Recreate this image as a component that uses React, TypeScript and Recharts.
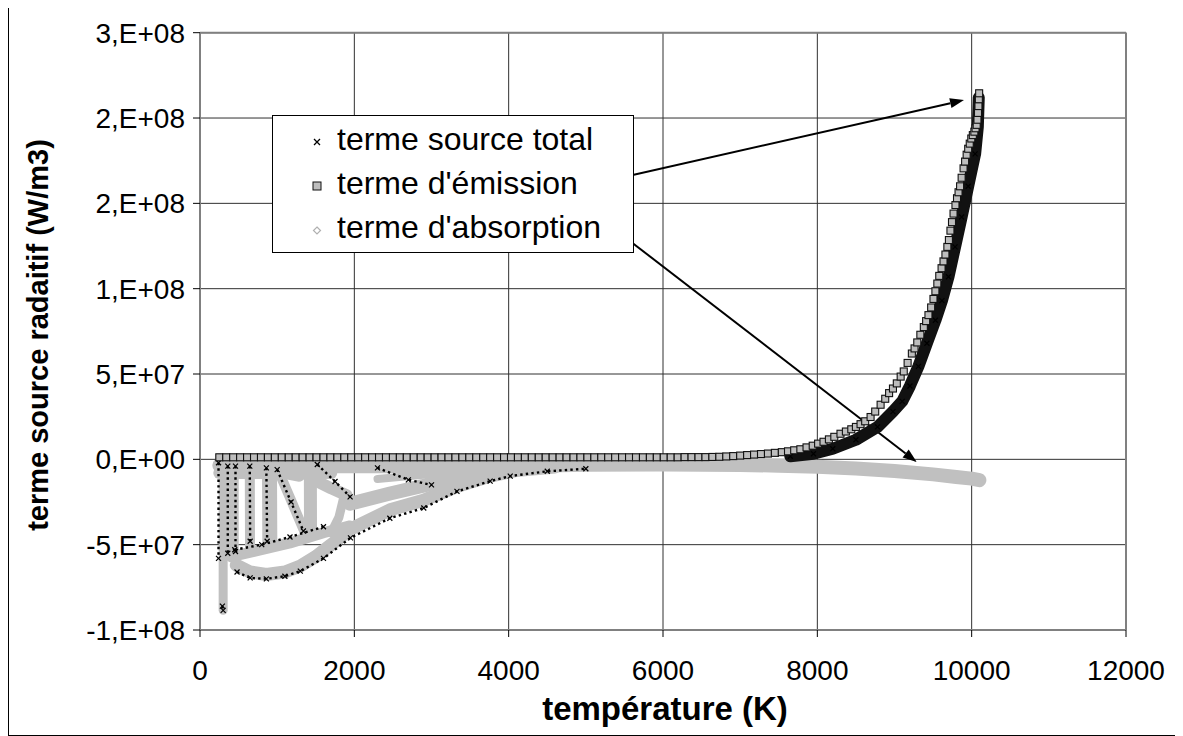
import React from 'react';
import { ScatterChart, Scatter, XAxis, YAxis, CartesianGrid, ReferenceLine, Legend } from 'recharts';

const FONT = "'Liberation Sans', Arial, Helvetica, sans-serif";

const xTicks = [0, 2000, 4000, 6000, 8000, 10000, 12000];
const yTicks = [-100000000, -50000000, 0, 50000000, 100000000, 150000000, 200000000, 250000000];
const yTickLabels = ['-1,E+08', '-5,E+07', '0,E+00', '5,E+07', '1,E+08', '2,E+08', '2,E+08', '3,E+08'];
const seriesNames = ['terme source total', "terme d'émission", "terme d'absorption"];
const xTitle = 'température (K)';
const yTitle = 'terme source radaitif (W/m3)';

type Pt = [number, number];

// terme d'émission : palier proche de zéro
const emissionFlat: Pt[] = [
  [250, 1.2e6], [340, 1.2e6], [430, 1.2e6], [520, 1.2e6], [610, 1.2e6], [700, 1.2e6], [790, 1.2e6], [880, 1.2e6],
  [970, 1.2e6], [1060, 1.2e6], [1150, 1.2e6], [1240, 1.2e6], [1330, 1.2e6], [1420, 1.2e6], [1510, 1.2e6], [1600, 1.2e6],
  [1690, 1.2e6], [1780, 1.2e6], [1870, 1.2e6], [1960, 1.2e6], [2050, 1.2e6], [2140, 1.2e6], [2230, 1.2e6], [2320, 1.2e6],
  [2410, 1.2e6], [2500, 1.2e6], [2590, 1.2e6], [2680, 1.2e6], [2770, 1.2e6], [2860, 1.2e6], [2950, 1.2e6], [3040, 1.2e6],
  [3130, 1.2e6], [3220, 1.2e6], [3310, 1.2e6], [3400, 1.2e6], [3490, 1.2e6], [3580, 1.2e6], [3670, 1.2e6], [3760, 1.2e6],
  [3850, 1.2e6], [3940, 1.2e6], [4030, 1.2e6], [4120, 1.2e6], [4210, 1.2e6], [4300, 1.2e6], [4390, 1.2e6], [4480, 1.2e6],
  [4570, 1.2e6], [4660, 1.2e6], [4750, 1.2e6], [4840, 1.2e6], [4930, 1.2e6], [5020, 1.2e6], [5110, 1.2e6], [5200, 1.2e6],
  [5290, 1.2e6], [5380, 1.2e6], [5470, 1.2e6], [5560, 1.2e6], [5650, 1.2e6], [5740, 1.2e6], [5830, 1.2e6], [5920, 1.2e6],
  [6010, 1.2e6], [6100, 1.2e6], [6190, 1.2e6], [6280, 1.3e6], [6370, 1.3e6], [6460, 1.3e6], [6550, 1.3e6], [6640, 1.4e6],
];

// terme d'émission : montée exponentielle
const emissionRise: Pt[] = [
  [6730, 1.5e6], [6820, 1.7e6], [6910, 1.9e6], [7000, 2.2e6], [7090, 2.5e6], [7180, 2.8e6], [7270, 3.1e6], [7360, 3.4e6],
  [7450, 3.8e6], [7540, 4.2e6], [7620, 4.7e6], [7700, 5.3e6], [7780, 5.9e6], [7860, 7.0e6], [7940, 8.0e6], [8010, 9.2e6],
  [8080, 1.03e7], [8150, 1.17e7], [8220, 1.32e7], [8300, 1.5e7], [8370, 1.63e7], [8440, 1.76e7], [8500, 1.9e7], [8560, 2.06e7],
  [8620, 2.23e7], [8690, 2.48e7], [8750, 2.8e7], [8820, 3.2e7], [8880, 3.55e7], [8930, 3.88e7], [8980, 4.15e7], [9030, 4.45e7],
  [9080, 4.85e7], [9120, 5.15e7], [9170, 5.65e7], [9225, 6.2e7], [9260, 6.5e7], [9295, 6.85e7], [9335, 7.3e7], [9380, 7.75e7],
  [9410, 8.1e7], [9440, 8.45e7], [9475, 8.9e7], [9505, 9.4e7], [9530, 9.85e7], [9555, 1.03e8], [9580, 1.075e8], [9610, 1.12e8],
  [9635, 1.16e8], [9660, 1.2e8], [9685, 1.245e8], [9705, 1.285e8], [9725, 1.34e8], [9745, 1.39e8], [9765, 1.44e8], [9790, 1.49e8],
  [9810, 1.53e8], [9830, 1.565e8], [9850, 1.6e8], [9870, 1.65e8], [9895, 1.705e8], [9915, 1.745e8], [9935, 1.785e8], [9955, 1.82e8],
  [9975, 1.85e8], [9995, 1.88e8], [10015, 1.9e8], [10035, 1.92e8], [10050, 1.94e8], [10065, 1.96e8], [10075, 1.99e8], [10082, 2.03e8],
  [10088, 2.07e8], [10093, 2.11e8], [10097, 2.145e8],
];

// terme source total : bande sombre à haute température
const totalRise: Pt[] = [
  [7650, 1.8e6], [7950, 3.3e6], [8200, 6.2e6], [8500, 1.15e7], [8780, 1.9e7], [8980, 2.8e7], [9100, 3.4e7], [9200, 4.3e7],
  [9310, 5.45e7], [9420, 6.8e7], [9530, 8.15e7], [9615, 9.3e7], [9700, 1.07e8], [9785, 1.245e8], [9870, 1.42e8], [9955, 1.6e8],
  [10045, 1.79e8], [10080, 1.95e8], [10092, 2.12e8],
];

// terme source total : points à basse température (contours pointillés)
const totalLowerEdge: Pt[] = [
  [480, -6.6e7], [650, -6.95e7], [860, -7.0e7], [1100, -6.85e7], [1300, -6.55e7], [1600, -5.8e7], [1950, -4.6e7],
  [2460, -3.45e7], [2900, -2.85e7], [3330, -1.88e7], [3760, -1.28e7], [4020, -9.8e6], [4500, -7e6], [5000, -5.5e6],
];
const totalLeftEdge: Pt[] = [[240, -2e6], [240, -5.8e7]];
const totalMesh1: Pt[] = [[360, -4e6], [360, -5.5e7]];
const totalMesh1b: Pt[] = [[460, -4e6], [460, -5.4e7]];
const totalMesh2: Pt[] = [[645, -4e6], [650, -4.8e7]];
const totalMesh2b: Pt[] = [[860, -5e6], [870, -4.8e7]];
const totalMesh3: Pt[] = [[1000, -6e6], [1180, -2.5e7], [1340, -4.2e7]];
const totalMesh4: Pt[] = [[1520, -3e6], [1750, -1.3e7], [1945, -2.2e7]];
const totalMesh5: Pt[] = [[2300, -5e6], [2700, -1.2e7], [3000, -1.5e7]];
const totalDiagEdge: Pt[] = [[450, -5.3e7], [800, -5.0e7], [1166, -4.55e7], [1600, -3.95e7]];
const totalBottom: Pt[] = [[290, -8.6e7], [300, -8.85e7]];

// terme d'absorption
const absZeroBand: Pt[] = [
  [250, -3.5e6], [1000, -4e6], [2000, -4e6], [3000, -4e6], [4000, -4e6], [5000, -3.2e6], [6000, -3e6], [7000, -3.3e6],
  [7500, -3.7e6], [8000, -4.3e6], [8500, -5.3e6], [9000, -6.8e6], [9500, -8.8e6], [9800, -1.03e7], [10000, -1.13e7], [10100, -1.22e7],
];
const absTopLeft: Pt[] = [[250, -8e6], [1000, -8e6], [1700, -8e6]];
const absVertical: Pt[] = [[300, -2e6], [300, -8.85e7]];
const absBlock: Pt[] = [[385, -2e6], [385, -5.4e7]];
const absLowerEnv: Pt[] = [
  [470, -6.2e7], [650, -6.6e7], [860, -6.75e7], [1100, -6.6e7], [1300, -6.25e7], [1500, -5.7e7], [1700, -5.0e7], [1944, -4.1e7],
  [2463, -2.96e7], [2895, -2.4e7], [3327, -1.6e7], [3759, -9.8e6], [4100, -6.5e6], [4600, -4.5e6],
];
const absDiagonal: Pt[] = [[400, -5.7e7], [700, -5.4e7], [1166, -4.9e7], [1600, -4.3e7], [1944, -3.9e7]];
const absTaper: Pt[] = [[1944, -2.6e7], [2463, -2.0e7], [2895, -1.55e7], [3327, -1.05e7], [3759, -6.5e6]];
const absTaper2: Pt[] = [[2300, -1.15e7], [2895, -9e6], [3327, -6.5e6]];
const absMeshB: Pt[] = [[645, -3e6], [648, -5.0e7]];
const absMeshC: Pt[] = [[900, -3e6], [905, -5.0e7]];
const absMeshD: Pt[] = [[1000, -5e6], [1180, -2.4e7], [1340, -4.1e7]];
const absMeshD2: Pt[] = [[1060, -7e6], [1280, -9e6]];
const absMeshE: Pt[] = [[1430, -4e6], [1432, -4.1e7]];
const absMeshF: Pt[] = [[1480, -1.2e7], [1700, -1.7e7], [1900, -2.1e7]];
const absMeshG: Pt[] = [[1870, -2.1e7], [1800, -3.4e7], [1700, -4.3e7]];

// flèches d'annotation (coordonnées en unités des axes)
const arrowEmission: Pt[] = [[5093, 1.614e8], [9901, 2.105e8]];
const arrowAbsorption: Pt[] = [[5469, 1.315e8], [9288, -1.6e6]];

const toData = (pts: Pt[]) => pts.map(([t, v]) => ({ t, v }));

const GRAY = '#c0c0c0';

const squareShape = (p: any) => (
  <rect x={p.cx - 3.5} y={p.cy - 3.5} width={7} height={7} fill="#bdbdbd" stroke="#111" strokeWidth={1.1} />
);
const crossShape = (p: any) => (
  <path d={`M${p.cx - 2.5},${p.cy - 2.5}L${p.cx + 2.5},${p.cy + 2.5}M${p.cx - 2.5},${p.cy + 2.5}L${p.cx + 2.5},${p.cy - 2.5}`} stroke="#000" strokeWidth={1.2} />
);
const diamondShape = (p: any) => (
  <path d={`M${p.cx},${p.cy - 3}L${p.cx + 3},${p.cy}L${p.cx},${p.cy + 3}L${p.cx - 3},${p.cy}Z`} fill={GRAY} stroke={GRAY} />
);

const absorptionSeries: { data: Pt[]; w: number }[] = [
  { data: absZeroBand, w: 14 },
  { data: absTopLeft, w: 12 },
  { data: absVertical, w: 9 },
  { data: absBlock, w: 18 },
  { data: absLowerEnv, w: 13 },
  { data: absDiagonal, w: 11 },
  { data: absTaper, w: 14 },
  { data: absTaper2, w: 8 },
  { data: absMeshB, w: 10 },
  { data: absMeshC, w: 15 },
  { data: absMeshD, w: 10 },
  { data: absMeshD2, w: 14 },
  { data: absMeshE, w: 13 },
  { data: absMeshF, w: 12 },
  { data: absMeshG, w: 9 },
];

const totalDotted: Pt[][] = [
  totalLowerEdge, totalLeftEdge, totalMesh1, totalMesh1b, totalMesh2, totalMesh2b, totalMesh3, totalMesh4, totalMesh5,
  totalDiagEdge, totalBottom,
];

const arrowShape = (p: any) => {
  const { x1, y1, x2, y2 } = p;
  const ang = Math.atan2(y2 - y1, x2 - x1);
  const L = 14;
  const W = 5;
  const bx = x2 - L * Math.cos(ang);
  const by = y2 - L * Math.sin(ang);
  const px = -Math.sin(ang) * W;
  const py = Math.cos(ang) * W;
  return (
    <g>
      <line x1={x1} y1={y1} x2={bx} y2={by} stroke="#000" strokeWidth={2} />
      <polygon points={`${x2},${y2} ${bx + px},${by + py} ${bx - px},${by - py}`} fill="#000" />
    </g>
  );
};

const LegendBox = () => (
  <svg width={362} height={138} style={{ display: 'block' }}>
    <rect x={0.5} y={0.5} width={361} height={137} fill="#fff" stroke="#000" strokeWidth={1} />
    <path d="M42,24L48,30M42,30L48,24" stroke="#000" strokeWidth={1.3} />
    <text x={65} y={35} fontSize={32} fontFamily={FONT} fill="#000">{seriesNames[0]}</text>
    <rect x={41} y={67} width={8} height={8} fill="#bdbdbd" stroke="#111" strokeWidth={1} />
    <text x={65} y={79} fontSize={32} fontFamily={FONT} fill="#000">{seriesNames[1]}</text>
    <path d="M45,112L48.5,115.5L45,119L41.5,115.5Z" fill="#fff" stroke="#b0b0b0" strokeWidth={1.2} />
    <text x={65} y={123} fontSize={32} fontFamily={FONT} fill="#000">{seriesNames[2]}</text>
  </svg>
);

const YTitle = () => (
  <text transform="rotate(-90)" x={-328} y={38.5} textAnchor="middle" fontSize={29} fontWeight="bold" fontFamily={FONT} fill="#000">
    {yTitle}
  </text>
);
const XTitle = () => (
  <text x={656} y={713} textAnchor="middle" fontSize={33} fontWeight="bold" fontFamily={FONT} fill="#000">
    {xTitle}
  </text>
);

export default function App() {
  return (
    <div style={{ width: 1167, height: 728, border: '1px solid #000', marginTop: -2, position: 'relative', background: '#fff' }}>
      <ScatterChart width={1167} height={728} margin={{ top: 25.7, right: 50, bottom: 0, left: 0 }}>
        <CartesianGrid stroke="#303030" strokeWidth={1} />
        <XAxis
          type="number"
          dataKey="t"
          domain={[0, 12000]}
          ticks={xTicks}
          interval={0}
          allowDataOverflow
          height={105}
          tickSize={7}
          tickMargin={23}
          axisLine={{ stroke: '#808080', strokeWidth: 2 }}
          tickLine={{ stroke: '#000' }}
          tick={{ fontSize: 28, fill: '#000', fontFamily: FONT }}
          label={{ content: () => <XTitle /> }}
        />
        <YAxis
          type="number"
          dataKey="v"
          domain={[-100000000, 250000000]}
          ticks={yTicks}
          interval={0}
          allowDataOverflow
          width={191}
          tickSize={7}
          tickMargin={8}
          tickFormatter={(v: number) => yTickLabels[yTicks.indexOf(v)] ?? ''}
          axisLine={{ stroke: '#808080', strokeWidth: 2 }}
          tickLine={{ stroke: '#000' }}
          tick={{ fontSize: 28, fill: '#000', fontFamily: FONT }}
          label={{ content: () => <YTitle /> }}
        />
        <ReferenceLine y={250000000} stroke="#808080" strokeWidth={2} />
        <ReferenceLine x={12000} stroke="#808080" strokeWidth={2} />

        {absorptionSeries.map((s, i) => (
          <Scatter
            key={`abs-${i}`}
            name={i === 0 ? seriesNames[2] : `${seriesNames[2]} ${i}`}
            data={toData(s.data)}
            fill={GRAY}
            line={{ stroke: GRAY, strokeWidth: s.w, strokeLinecap: 'round', strokeLinejoin: 'round' }}
            lineType="joint"
            shape={diamondShape}
            legendType="none"
            isAnimationActive={false}
          />
        ))}

        {totalDotted.map((d, i) => (
          <Scatter
            key={`tot-${i}`}
            name={`${seriesNames[0]} ${i}`}
            data={toData(d)}
            fill="#000"
            line={{ stroke: '#000', strokeWidth: 2.4, strokeDasharray: '2.4 3.2' }}
            lineType="joint"
            shape={crossShape}
            legendType="none"
            isAnimationActive={false}
          />
        ))}
        <Scatter
          name={seriesNames[0]}
          data={toData(totalRise)}
          fill="#000"
          line={{ stroke: '#111', strokeWidth: 12, strokeLinecap: 'round', strokeLinejoin: 'round' }}
          lineType="joint"
          shape={crossShape}
          legendType="none"
          isAnimationActive={false}
        />
        <Scatter
          name={seriesNames[1]}
          data={toData(emissionFlat)}
          fill="#bdbdbd"
          shape={squareShape}
          legendType="none"
          isAnimationActive={false}
        />
        <Scatter
          name={`${seriesNames[1]} 2`}
          data={toData(emissionRise)}
          fill="#bdbdbd"
          shape={squareShape}
          legendType="none"
          isAnimationActive={false}
        />

        <ReferenceLine
          segment={[{ x: arrowEmission[0][0], y: arrowEmission[0][1] }, { x: arrowEmission[1][0], y: arrowEmission[1][1] }]}
          shape={arrowShape}
        />
        <ReferenceLine
          segment={[{ x: arrowAbsorption[0][0], y: arrowAbsorption[0][1] }, { x: arrowAbsorption[1][0], y: arrowAbsorption[1][1] }]}
          shape={arrowShape}
        />

        <Legend
          layout="horizontal"
          verticalAlign="middle"
          align="center"
          content={() => <LegendBox />}
          wrapperStyle={{ left: 262.7, top: 108, width: 362, height: 138 }}
        />
      </ScatterChart>
    </div>
  );
}
